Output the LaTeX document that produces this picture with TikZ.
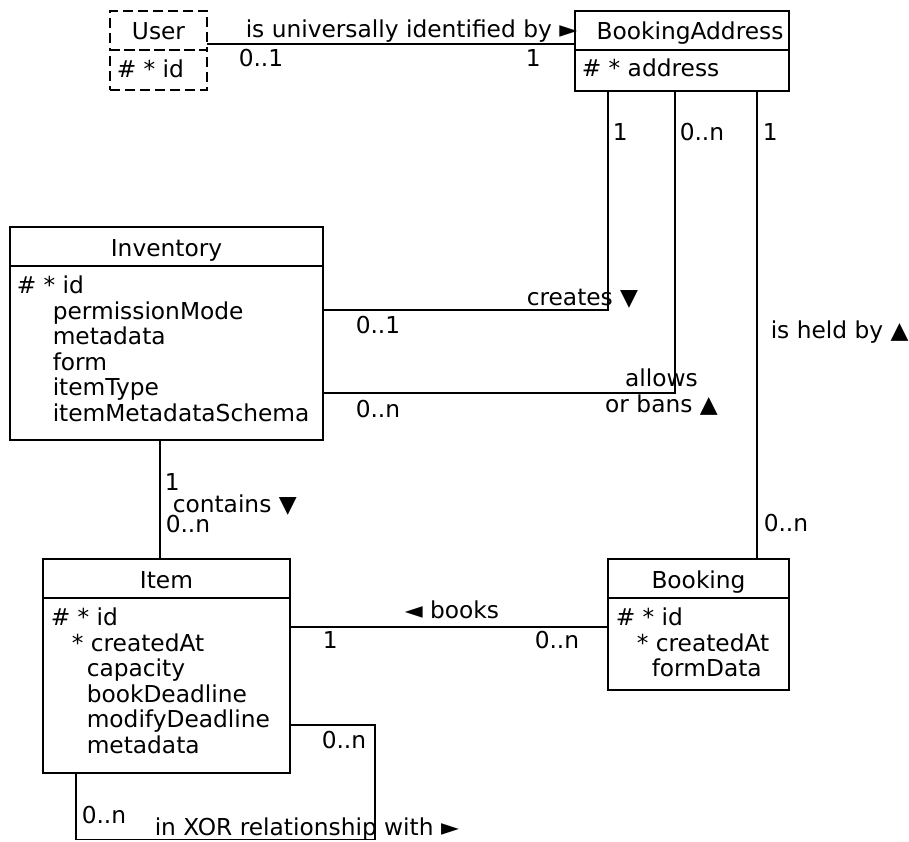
\documentclass[tikz,border=0pt]{standalone}
\usepackage{fontspec}
\setmainfont{DejaVu Sans}
\newcommand{\ia}{\hspace*{36pt}}
\newcommand{\ib}{\hspace*{21pt}}
\begin{document}
\begin{tikzpicture}[x=1pt,y=-1pt,line width=1.5pt,font=\fontsize{23.3}{25.6}\selectfont,
  head/.style={draw,minimum height=39pt,text height=19pt,text depth=0pt,inner sep=0pt,outer sep=0pt,anchor=north west},
  body/.style={draw,inner sep=0pt,outer sep=0pt,anchor=north west},
  attr/.style={inner sep=0pt,anchor=north west,align=left},
  lab/.style={inner sep=0pt,anchor=base west}]
\useasboundingbox (0,0) rectangle (909,842);
\node[head,dash pattern=on 10pt off 5pt,minimum width=97pt] (userH) at (110,11) {User};
\node[body,dash pattern=on 10pt off 5pt,minimum width=97pt,minimum height=40pt] (user) at (userH.south west) {};
\node[attr] (userA) at ([shift={(6,9)}]user.north west) {\# * id};
\node[head,minimum width=214pt] (baH) at (575,11) {\hspace*{16pt}BookingAddress};
\node[body,minimum width=214pt,minimum height=41pt] (ba) at (baH.south west) {};
\node[attr] (baA) at ([shift={(6,8)}]ba.north west) {\# * address};
\node[head,minimum width=313pt] (invH) at (10,227) {Inventory};
\node[body,minimum width=313pt,minimum height=174pt] (inv) at (invH.south west) {};
\node[attr] (invA) at ([shift={(6,9)}]inv.north west) {\# * id\\\ia permissionMode\\\ia metadata\\\ia form\\\ia itemType\\\ia itemMetadataSchema};
\node[head,minimum width=247pt] (itemH) at (43,559) {Item};
\node[body,minimum width=247pt,minimum height=175pt] (item) at (itemH.south west) {};
\node[attr] (itemA) at ([shift={(7,9)}]item.north west) {\# * id\\\ib * createdAt\\\ia capacity\\\ia bookDeadline\\\ia modifyDeadline\\\ia metadata};
\node[head,minimum width=181pt] (bkH) at (608,559) {Booking};
\node[body,minimum width=181pt,minimum height=92pt] (bk) at (bkH.south west) {};
\node[attr] (bkA) at ([shift={(7,9)}]bk.north west) {\# * id\\\ib * createdAt\\\ia formData};

\draw ([yshift=6pt]userH.south east) -- ([yshift=6pt]baH.south west);
\draw ([xshift=33pt]ba.south west) |- ([yshift=-44pt]inv.north east);
\draw ([xshift=100pt]ba.south west) |- ([yshift=-127pt]inv.north east);
\draw ([xshift=182pt]ba.south west) -- ([xshift=182pt]ba.south west |- bkH.north);
\draw ([xshift=150pt]inv.south west) -- ([xshift=150pt]inv.south west |- itemH.north);
\draw ([yshift=-29pt]item.north east) -- ([yshift=-29pt]item.north east -| bk.west);
\draw ([yshift=-127pt]item.north east) -| ++(85,114.5) -| ([xshift=33pt]item.south west);

\node[lab] (l1) at (245,38) {is universally identified by ►};
\node[lab] (m1) at (238,67) {0..1};
\node[lab] (m2) at (525,67) {1};
\node[lab] (m3) at (612,141) {1};
\node[lab] (m4) at (679,141) {0..n};
\node[lab] (m5) at (762,141) {1};
\node[lab] (l2) at (526,305) {creates ▼};
\node[lab] (m6) at (355,333) {0..1};
\node[lab,anchor=center,align=center] (l3) at (661.5,392) {allows\\or bans ▲};
\node[lab] (m7) at (355,417) {0..n};
\node[lab] (l4) at (770,338) {is held by ▲};
\node[lab] (m8) at (763,531) {0..n};
\node[lab] (m9) at (164,490) {1};
\node[lab] (l5) at (172,512) {contains ▼};
\node[lab] (m10) at (165,532) {0..n};
\node[lab] (l6) at (404,618) {◄ books};
\node[lab] (m11) at (322,648) {1};
\node[lab] (m12) at (534,648) {0..n};
\node[lab] (m13) at (321,748) {0..n};
\node[lab] (m14) at (81,823) {0..n};
\node[lab] (l7) at (154,835) {in XOR relationship with ►};
\end{tikzpicture}
\end{document}
